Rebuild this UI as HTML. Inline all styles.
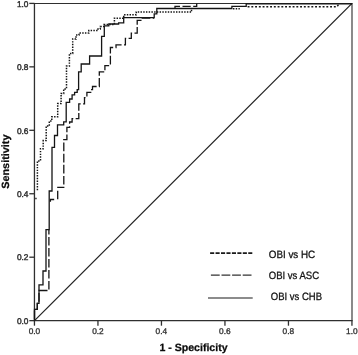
<!DOCTYPE html>
<html>
<head>
<meta charset="utf-8">
<title>ROC curve</title>
<style>
html,body{margin:0;padding:0;background:#fff;}
body{width:358px;height:355px;overflow:hidden;}
svg{display:block;will-change:transform;}
text{font-family:"Liberation Sans",Arial,sans-serif;text-rendering:geometricPrecision;}
.tick{font-size:8.3px;fill:#2e2e2e;stroke:#2e2e2e;stroke-width:0.3px;}
.axl{font-size:10.5px;font-weight:bold;fill:#0c0c0c;stroke:#0c0c0c;stroke-width:0.25px;}
.leg{font-size:10.6px;fill:#141414;stroke:#141414;stroke-width:0.3px;}
</style>
</head>
<body>
<svg width="358" height="355" viewBox="0 0 358 355">
<rect x="0" y="0" width="358" height="355" fill="#fff"/>

<!-- frame -->
<g stroke="#2f2f2f" fill="none">
<line x1="33.8" x2="352.6" y1="3.4" y2="3.4" stroke-width="1.05"/>
<line x1="33.8" x2="352.6" y1="320.65" y2="320.65" stroke-width="1.3"/>
<line x1="34.45" x2="34.45" y1="3.4" y2="320.65" stroke-width="1.3"/>
<line x1="352" x2="352" y1="3.4" y2="320.65" stroke-width="1.12"/>
</g>

<!-- y ticks -->
<g stroke="#2f2f2f" stroke-width="1.3">
<line x1="29.3" x2="34.5" y1="3.40" y2="3.40"/>
<line x1="29.3" x2="34.5" y1="66.85" y2="66.85"/>
<line x1="29.3" x2="34.5" y1="130.30" y2="130.30"/>
<line x1="29.3" x2="34.5" y1="193.75" y2="193.75"/>
<line x1="29.3" x2="34.5" y1="257.20" y2="257.20"/>
<line x1="29.3" x2="34.5" y1="320.65" y2="320.65"/>
<!-- x ticks -->
<line y1="320.6" y2="325.7" x1="34.45" x2="34.45"/>
<line y1="320.6" y2="325.7" x1="97.95" x2="97.95"/>
<line y1="320.6" y2="325.7" x1="161.45" x2="161.45"/>
<line y1="320.6" y2="325.7" x1="224.95" x2="224.95"/>
<line y1="320.6" y2="325.7" x1="288.45" x2="288.45"/>
<line y1="320.6" y2="325.7" x1="351.95" x2="351.95"/>
</g>

<!-- y tick labels -->
<g class="tick" text-anchor="end" style="stroke-width:0.42px">
<text x="28.5" y="6.6">1.0</text>
<text x="28.5" y="70.1">0.8</text>
<text x="28.5" y="133.5">0.6</text>
<text x="28.5" y="197.0">0.4</text>
<text x="28.5" y="260.4">0.2</text>
<text x="28.5" y="323.8">0.0</text>
</g>
<!-- x tick labels -->
<g class="tick" text-anchor="middle">
<text x="34.4" y="334.2">0.0</text>
<text x="97.9" y="334.2">0.2</text>
<text x="161.3" y="334.2">0.4</text>
<text x="224.8" y="334.2">0.6</text>
<text x="288.3" y="334.2">0.8</text>
<text x="351.8" y="334.2">1.0</text>
</g>

<!-- axis titles -->
<text class="axl" x="193.5" y="351.4" text-anchor="middle" textLength="68.2" lengthAdjust="spacingAndGlyphs">1 - Specificity</text>
<text class="axl" transform="translate(8.8,188.8) rotate(-90)" textLength="54.3" lengthAdjust="spacingAndGlyphs">Sensitivity</text>

<!-- diagonal -->
<line x1="34.5" y1="320.6" x2="352" y2="3.4" stroke="#222" stroke-width="1.3"/>

<!-- curves -->
<g fill="none" stroke="#151515" stroke-width="1.3" stroke-linejoin="miter">
<!-- dotted : OBI vs HC -->
<path stroke-width="1.5" stroke-dasharray="1.45 1.28" d="M35.3,198.5 h1.3 M37.4,190.2 V160.9 H40.5 V148.7 H43.2 V140.6 H46.2 V126 H49.3 V121 H51.8 V116.8 H57.7 V103.6 H61.1 V93.5 H63.7 V88.9 H66.5 V66 H69.4 V53.5 H72.7 V39 H76 V35 H79 V33 H88.8 V30.5 H98 V29 H100.3 V26.5 H104 V24.6 H114.4 V18.2 H123.7 V14.8 H136.3 V12.1 H191.5 V9.2 M233,8.8 H239.8"/>
<path stroke-width="1.45" stroke-dasharray="1.9 1.85" d="M247.6,6.7 H337 L338.5,4.6"/>
<!-- dashed : OBI vs ASC -->
<path stroke-dasharray="8.7 2.3" stroke-dashoffset="9.7" d="M34.5,320.5 V309.3 H37.3 V303.4 H39 V290.5 H48.9 V229.6"/>
<path d="M50.4,201.8 V199.5 H54.2 M57.7,199.3 V190.8 M57.2,187.4 H64.4"/>
<path stroke-dasharray="8.71 2.4" stroke-dashoffset="0" d="M63.8,184.6 L63.8,139.7 L66.9,139.7 L66.9,127.4 L69.6,127.4 L69.6,122 L72.1,122 L72.1,118.7 L78.8,118.7 L78.8,103.9 L84.5,103.9 L84.5,97.6 L86.9,97.6 L86.9,92.4 L90.7,92.4 L90.7,89.6 L92.5,89.6 L92.5,86.5 L99.3,86.5 L99.3,71.9 L104.9,71.9 L104.9,65.7 L110.4,65.7 L110.4,47.5 L116,47.5 L116,44.8 L125.4,44.8 L125.4,38.3 L131.3,38.3 L131.3,33.1 L137.2,33.1 L137.2,20.3 L142.3,20.3 L142.3,18 L154.2,18"/>
<path stroke-dasharray="8.2 2.5" stroke-dashoffset="1.1" d="M175,8.5 V6.4 H196.7 V3.6"/>
<!-- solid : OBI vs CHB -->
<path d="M34.5,320.5 V309.3 H37.3 V303.4 H39 V284.8 H43 V271 H46 V229.6 H49.2 V191 H52 V147.4 H54.5 V135.5 H57.5 V124.8 H63.7 V121.9 H66.2 V102.4 H69.6 V99 H72.1 V94.8 H74.6 V92.3 H77.2 V89.7 H78.6 V71.9 H81.2 V64 H89.6 V56 H101.6 V36.4 H104.3 V25.9 H108.8 V24 H118.6 V22.8 H123.7 V17.7 H154.2 V13.9 H156.8 V8.5 H231.9 V6.4 H246.2 V3.8 H352"/>
</g>

<!-- legend -->
<line x1="210.1" x2="252.3" y1="253.1" y2="253.1" stroke="#1a1a1a" stroke-width="1.7" stroke-dasharray="4.1 1.35"/>
<line x1="210.9" x2="251.6" y1="275.1" y2="275.1" stroke="#333" stroke-width="1.4" stroke-dasharray="8.8 1.8"/>
<line x1="208" x2="252.7" y1="297.9" y2="297.9" stroke="#666" stroke-width="1.5"/>
<g class="leg">
<text x="268.8" y="258.1" textLength="46.4" lengthAdjust="spacingAndGlyphs">OBI vs HC</text>
<text x="268.8" y="278.8" textLength="50.3" lengthAdjust="spacingAndGlyphs">OBI vs ASC</text>
<text x="270.8" y="299.7" textLength="51.2" lengthAdjust="spacingAndGlyphs">OBI vs CHB</text>
</g>
</svg>
</body>
</html>
